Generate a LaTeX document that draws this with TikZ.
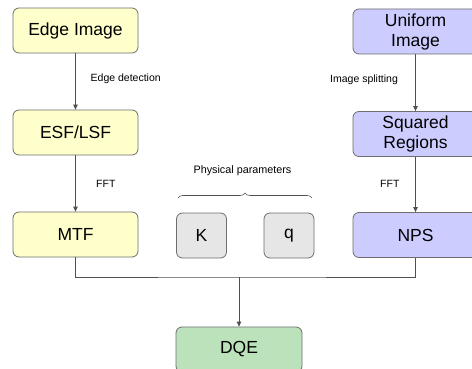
\documentclass[tikz,border=0pt]{standalone}
\usepackage{fontspec}
\setmainfont{Liberation Sans}
\usetikzlibrary{arrows.meta,decorations.pathreplacing}
\definecolor{ylw}{HTML}{FFFFCC}
\definecolor{blu}{HTML}{CCCCFF}
\definecolor{gry}{HTML}{E6E6E6}
\definecolor{grn}{HTML}{BCE2BC}
\definecolor{bord}{HTML}{6E6E6E}
\definecolor{lin}{HTML}{505050}
\tikzset{
  box/.style={draw=bord, line width=0.8pt, rounded corners=6pt, minimum width=125pt, minimum height=45pt,
    inner sep=0pt, align=center, font=\fontsize{17.5}{20}\selectfont},
  pbox/.style={box, fill=gry, minimum width=50pt},
  lbl/.style={font=\fontsize{10.5}{12}\selectfont, anchor=west, inner sep=0pt},
  conn/.style={draw=lin, line width=0.8pt},
  arr/.style={conn, -{Triangle[length=5pt,width=4.5pt]}},
}
\begin{document}
\begin{tikzpicture}[x=1pt,y=-1pt]
\useasboundingbox (0,0) rectangle (472,369);
\clip (0,0) rectangle (472,369);
\fill[white] (0,0) rectangle (472,369);
\node[box, fill=ylw] (edge) at (75.5,30.5) {Edge Image};
\node[box, fill=ylw] (esf) at (75.5,132.5) {ESF/LSF};
\node[box, fill=ylw] (mtf) at (75.5,234.5) {MTF};
\node[pbox] (k) at (201.5,235.5) {K};
\node[pbox] (q) at (289,235.5) {q};
\node[box, fill=blu] (uni) at (415.5,31.5) {Uniform\\Image};
\node[box, fill=blu] (sq) at (415.5,134) {Squared\\Regions};
\node[box, fill=blu] (nps) at (415.5,235) {NPS};
\node[box, fill=grn, minimum width=126pt] (dqe) at (239,349.5) {DQE};
\draw[arr] (edge) -- (esf);
\draw[arr] (esf) -- (mtf);
\draw[arr] (uni) -- (sq);
\draw[arr] (sq) -- (nps);
\coordinate (j) at (239,277);
\draw[conn] (mtf.south) |- (j) -| (nps.south);
\draw[arr] (j) -- (dqe.north);
\node[lbl] (l1) at (90.5,79) {Edge detection};
\node[lbl] (l2) at (96,184) {FFT};
\node[lbl] (l3) at (330,80) {Image splitting};
\node[lbl] (l4) at (380,184) {FFT};
\node[font=\fontsize{10.8}{12}\selectfont, inner sep=0pt] (pp) at (242.5,171) {Physical parameters};
\draw[draw=lin, line width=0.6pt, decorate, decoration={brace, amplitude=5pt}] (178,198) -- (312,198);
\end{tikzpicture}
\end{document}
